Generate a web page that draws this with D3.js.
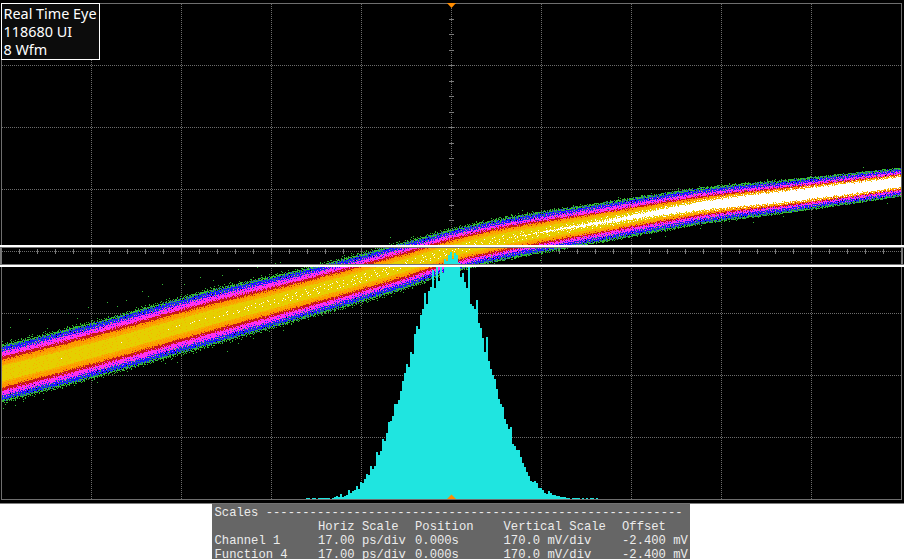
<!DOCTYPE html>
<html><head><meta charset="utf-8">
<script src="https://cdn.jsdelivr.net/npm/d3@7"></script>
<style>html,body{margin:0;padding:0;background:#fff;overflow:hidden}svg{display:block}</style>
</head><body><svg id="c" width="904" height="559"></svg>
<script>
// ---------- data ----------
const legendLines = ["Real Time Eye", "118680 UI", "8 Wfm"];
const timeDivsPs = [-68, -51, -34, -17, 0, 17, 34, 51, 68];
const voltDivsMv = [510, 340, 170, 0, -170, -340, -510];

const stationsPs = [-85, -66, -47, -28, -9, 0, 9, 28, 47, 66, 85];
const centreMv   = [-337, -266, -189, -118, -41, 0, 30, 77, 123, 154, 189];
// half-width of each density contour around the centre, in mV
const halfGreen   = [88, 84, 86, 76, 74, 66, 64, 58, 54, 48, 40];
const halfBlue    = [70, 68, 68, 60, 56, 51, 50, 46, 42, 37, 32];
const halfMagenta = [57, 55, 55, 48, 44, 41, 39, 36, 32, 28, 25];
const halfRed     = [46, 44, 43, 38, 36, 33, 33, 28, 26, 24, 20];
const halfOrange  = [36, 35, 34, 30, 28, 26, 26, 23, 21, 20, 17];
const halfYellow  = [23, 22, 22, 20, 19, 18, 18, 17, 15, 15, 14];
const halfSparseW = [0, 0, 3, 12, 12, 12, 12, 14, 12, 0, 0];
const halfSolidW  = [0, 0, 0, 0, 0, 0, 0, 1, 9, 13, 11];

// stray hits outside the band: [ps, mV]
const strayHits = [[-47.4,-71],[-54.6,-90],[-58.4,-110],[-57.2,-123],[-50.4,-90],[-65,-140],[-61.4,-134],[-68.6,-154],[-72.3,-170],[-79.7,-186],[-83.3,-208],[-76.3,-211],[-70.6,-184],[-63.1,-151],[-40.2,-49],[-43.3,-66],[-45,-80],[-32.3,-30],[-33.2,-33],[-36.6,-44],[-40.2,-252],[-42.3,-274],[-51.8,-304],[-54,-307],[-62.1,-340],[-66.9,-359],[-77.1,-406],[-80.8,-411],[-82.4,-422],[-84.6,-430],[-31.7,-217],[-37.4,-239],[-45.9,-263],[31.5,148],[36.1,154],[42.9,173],[49.5,173],[52.7,178],[59.7,197],[67.2,203],[77.8,230],[82.4,132],[62.7,96],[57,80],[47,63],[40.4,41],[37.6,36],[-11.5,38],[-8.3,25],[9.3,80],[13.4,112],[23.8,118],[15.5,93],[16.8,-25]];

// jitter histogram
const histStartPs = -27.39, histBinPs = 0.3778;
const histCounts = [1,1,0,1,1,0,1,1,1,1,1,1,0,
 1,2,3,2,5,2,3,4,9,6,8,9,13,10,17,16,20,25,24,33,30,33,47,44,48,60,58,66,77,78,83,95,95,99,
 108,118,126,135,132,147,145,165,173,170,184,190,206,195,208,212,229,211,232,218,232,226,240,238,244,247,240,246,244,236,
 222,226,217,211,232,195,193,190,199,176,171,161,147,162,138,130,124,120,110,100,95,92,80,75,70,72,55,53,49,49,42,36,32,27,23,18,17,18,16,11,11,9,6,5,8,6,4,4,3,3,2,2,2,1,1,0,1,1,1,1,0,1,0,1,0,1,1,0,1];

const scalesTitle = "Scales " + "-".repeat(57);
const scaleHeaders = ["Horiz Scale", "Position", "Vertical Scale", "Offset"];
const scaleRows = [
  ["Channel 1", "17.00 ps/div", "0.000s", "170.0 mV/div", "-2.400 mV"],
  ["Function 4", "17.00 ps/div", "0.000s", "170.0 mV/div", "-2.400 mV"]];

// stipple texture (style only, hand drawn)
const stippleRows = [
 "#..#.....#.#....#..#...",
 "..#..##......#.....#.#.",
 ".#.....#.#..#..##......",
 "....#.....#.....#..#..#",
 "#.#...#.#....#.....#...",
 "...#.....#.#...#.#...#.",
 ".#...#......#.....#....",
 "#...#..#.#.....#.....#.",
 "..#......#..#.#...#....",
 ".....#.#......#.....#.#",
 "#.#.....#.#.......#....",
 "...#.#.....#..#.#....#.",
 ".#......#......#..#....",
 "....#.#...#.#.......#.#",
 "#.......#.....#.#.#....",
 "..#.#.#....#.........#.",
 ".....#..#.....#.#.#....",
 "#.#.......#.#.......#.#",
 "...#.#.#......#.#......"];

// ---------- scales ----------
const svg = d3.select("#c");
const x = d3.scaleLinear().domain([-85, 85]).range([1, 901]);
const y = d3.scaleLinear().domain([-680, 680]).range([499, 3]);
const yHist = d3.scaleLinear().domain([0, 248]).range([499, 251]);

svg.append("rect").attr("width", 904).attr("height", 503.5).attr("fill", "#000");

const defs = svg.append("defs");
defs.append("clipPath").attr("id", "plot").append("rect").attr("x", 2).attr("y", 3).attr("width", 899).attr("height", 496);

const W = stippleRows[0].length, H = stippleRows.length;
const cellsOn = [], cellsOff = [];
stippleRows.forEach((r, j) => [...r].forEach((ch, i) => (ch === "#" ? cellsOn : cellsOff).push([i, j])));
let tileN = 0;
function tile(cells, col) {
  const id = "t" + (++tileN);
  const p = defs.append("pattern").attr("id", id).attr("patternUnits", "userSpaceOnUse")
    .attr("width", W).attr("height", H)
    .attr("patternTransform", `translate(${tileN * 7},${tileN * 5})`);
  p.selectAll("rect").data(cells).join("rect")
    .attr("x", d => d[0]).attr("y", d => d[1]).attr("width", 1).attr("height", 1).attr("fill", col);
  return `url(#${id})`;
}
const colours = {green:"#35b935", blue:"#1818ff", magenta:"#ff30f0", red:"#c81818", orange:"#ff9600", amber:"#f5b400", yellow:"#e6cf00", white:"#ffffff"};
const med = {}, dense = {}, sparse = {};
Object.entries(colours).forEach(([k, c]) => {
  med[k] = tile(cellsOn, c);
  dense[k] = tile(cellsOff, c);
  sparse[k] = tile(cellsOn.filter((d, i) => i % 3 === 0), c);
});

// ---------- grid ----------
const gridCol = "#6c6c6c";
const grid = svg.append("g").attr("stroke", gridCol).attr("stroke-dasharray", "1 1").attr("shape-rendering", "crispEdges");
grid.selectAll(".v").data(timeDivsPs).join("line").attr("x1", d => Math.round(x(d)) + .5).attr("x2", d => Math.round(x(d)) + .5).attr("y1", 4).attr("y2", 499);
grid.selectAll(".h").data(voltDivsMv).join("line").attr("y1", d => Math.round(y(d)) + .5).attr("y2", d => Math.round(y(d)) + .5).attr("x1", 2).attr("x2", 901);

// minor ticks on centre lines
const hTicks = d3.range(-85, 85.01, 3.4), vTicks = d3.range(-680, 680.01, 42.5);
const ticks = svg.append("g").attr("stroke", "#7a7a7a").attr("shape-rendering", "crispEdges");
ticks.selectAll(".a").data(hTicks).join("line").attr("x1", d => Math.round(x(d)) + .5).attr("x2", d => Math.round(x(d)) + .5).attr("y1", y(0) - 2).attr("y2", y(0) + 3);
ticks.selectAll(".b").data(vTicks).join("line").attr("y1", d => Math.round(y(d)) + .5).attr("y2", d => Math.round(y(d)) + .5).attr("x1", x(0) - 2).attr("x2", x(0) + 3);

// ---------- eye band ----------
const band = svg.append("g").attr("clip-path", "url(#plot)").attr("shape-rendering", "crispEdges");
const area = d3.area().x((d, i) => x(stationsPs[i])).y0((d, i) => y(centreMv[i] - d)).y1((d, i) => y(centreMv[i] + d)).curve(d3.curveMonotoneX);
function layer(h, fill, extra = 0) {
  band.append("path").attr("d", area(h.map(v => v > 0 ? v + extra : 0))).attr("fill", fill);
}
const mid = (a, b) => a.map((v, i) => (v + b[i]) / 2);
layer(halfGreen, sparse.green);
layer(mid(halfGreen, halfBlue), med.green, 4);
layer(halfBlue, dense.green, 8);
layer(halfBlue, med.blue, 7);
layer(halfBlue, dense.blue, 2);
layer(halfMagenta, med.magenta, 9);
layer(halfMagenta, dense.magenta, 3);
layer(halfMagenta, colours.magenta, -4);
layer(halfRed, med.red, 4);
layer(halfRed, dense.red, 1);
layer(halfRed, colours.red, -3);
layer(halfOrange, med.orange, 4);
layer(halfOrange, dense.orange, 2);
layer(halfOrange, colours.orange, -2);
layer(halfOrange, sparse.amber, -2);
layer(halfYellow, med.amber, 8);
layer(halfYellow, dense.amber, 3);
layer(halfYellow, colours.yellow, -2);
layer(halfYellow, sparse.amber, -2);
layer(halfSparseW, sparse.white);
layer(halfSolidW, med.white, 8);
layer(halfSolidW, dense.white, 3);
layer(halfSolidW, colours.white);

band.selectAll(".stray").data(strayHits).join("rect")
  .attr("x", d => Math.round(x(d[0]))).attr("y", d => Math.round(y(d[1])))
  .attr("width", 1).attr("height", 1).attr("fill", colours.green);

// ---------- histogram ----------
svg.append("g").attr("shape-rendering", "crispEdges").selectAll("rect").data(histCounts).join("rect")
  .attr("x", (d, i) => x(histStartPs + i * histBinPs))
  .attr("width", x(histBinPs) - x(0))
  .attr("y", d => yHist(d)).attr("height", d => yHist(0) - yHist(d))
  .attr("fill", "#1fe5e0");

// ---------- frame + selection box ----------
const frame = svg.append("g").attr("shape-rendering", "crispEdges");
frame.append("rect").attr("x", 1.5).attr("y", 3.5).attr("width", 900).attr("height", 495.5).attr("fill", "none").attr("stroke", "#6e6e6e");
frame.append("rect").attr("x", 0).attr("y", 245).attr("width", 904).attr("height", 2).attr("fill", "#fff");
frame.append("rect").attr("x", 0).attr("y", 247).attr("width", 904).attr("height", 1).attr("fill", "#777");
frame.append("rect").attr("x", 0).attr("y", 264).attr("width", 904).attr("height", 1).attr("fill", "#777");
frame.append("rect").attr("x", 0).attr("y", 265).attr("width", 904).attr("height", 2).attr("fill", "#fff");
frame.append("rect").attr("x", 0).attr("y", 247).attr("width", 2).attr("height", 18).attr("fill", "#777");
frame.append("rect").attr("x", 901).attr("y", 247).attr("width", 2).attr("height", 18).attr("fill", "#777");

// ---------- centre markers ----------
const tri = d3.line();
const mx = x(0) + .5;
svg.append("path").attr("d", tri([[mx - 4.5, 3], [mx + 4.5, 3], [mx, 8]]) + "Z").attr("fill", "#ff8c00");
svg.append("path").attr("d", tri([[mx - 4.5, 499], [mx + 4.5, 499], [mx, 494.5]]) + "Z").attr("fill", "#ff8c00");

// ---------- legend ----------
const lg = svg.append("g");
lg.append("rect").attr("x", 1.5).attr("y", 3.5).attr("width", 98).attr("height", 56).attr("fill", "#0c0c0c").attr("stroke", "#fff").attr("shape-rendering", "crispEdges");
lg.selectAll("text").data(legendLines).join("text")
  .attr("x", 3.5).attr("y", (d, i) => 19 + i * 18)
  .attr("font-family", "'Noto Sans',sans-serif").attr("font-size", 14.4).attr("fill", "#fff").text(d => d);

// ---------- scales panel ----------
svg.append("rect").attr("x", 212).attr("y", 503.5).attr("width", 478).attr("height", 56).attr("fill", "#666");
const panel = svg.append("g").attr("font-family", "'Liberation Mono',monospace").attr("font-size", 12.2).attr("fill", "#ececec");
const colX = [214.5, 318, 415, 503.5, 622];
panel.append("text").attr("x", colX[0]).attr("y", 516).text(scalesTitle);
panel.selectAll(".hd").data(scaleHeaders).join("text").attr("x", (d, i) => colX[i + 1]).attr("y", 530).text(d => d);
scaleRows.forEach((row, r) => {
  panel.append("g").selectAll("text").data(row).join("text")
    .attr("x", (d, i) => colX[i]).attr("y", 544 + r * 13.5).text(d => d);
});
</script></body></html>
